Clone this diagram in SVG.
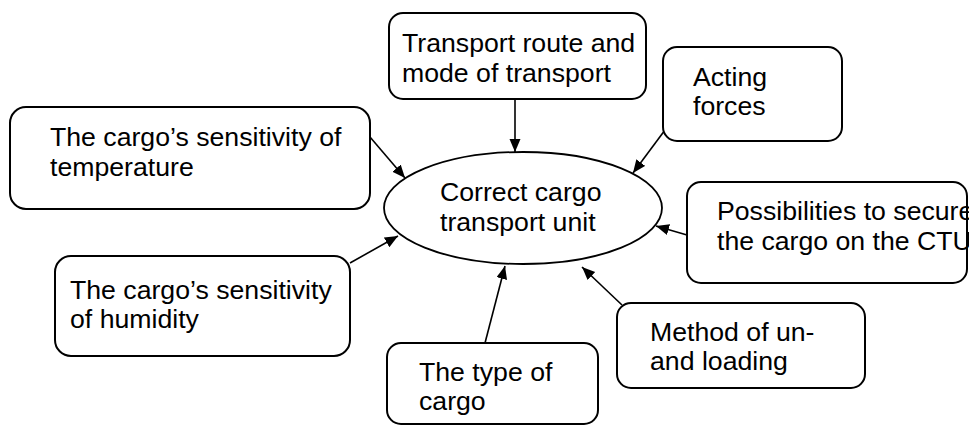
<svg xmlns="http://www.w3.org/2000/svg" width="969" height="425" viewBox="0 0 969 425">
<style>
.box{fill:#fff;stroke:#000;stroke-width:2}
.ell{fill:#fff;stroke:#000;stroke-width:1.8}
.t{font-family:"Liberation Sans",Arial,sans-serif;font-size:26.67px;fill:#000}
.c{stroke:#000;stroke-width:1.6;fill:none;marker-end:url(#ah)}
</style>
<defs>
<marker id="ah" markerUnits="userSpaceOnUse" markerWidth="14" markerHeight="12" refX="13" refY="5.5" orient="auto">
<path d="M0,0 L13,5.5 L0,11 z" fill="#000"/>
</marker>
</defs>
<rect width="969" height="425" fill="#fff"/>
<g id="connectors">
<line class="c" x1="515" y1="99" x2="515" y2="152"/>
<line class="c" x1="665" y1="130" x2="633" y2="173"/>
<line class="c" x1="370" y1="137" x2="405" y2="178"/>
<line class="c" x1="350" y1="263" x2="398" y2="236"/>
<line class="c" x1="485" y1="343" x2="505" y2="266"/>
<line class="c" x1="687" y1="235" x2="656" y2="226"/>
<line class="c" x1="622" y1="305" x2="582" y2="267"/>
</g>
<g id="center">
<ellipse class="ell" cx="523" cy="208" rx="139" ry="56"/>
<text class="t" x="440" y="201">Correct cargo</text>
<text class="t" x="440" y="231">transport unit</text>
</g>
<g id="route">
<rect class="box" x="389" y="13" width="257" height="86" rx="14"/>
<text class="t" x="402" y="52">Transport route and</text>
<text class="t" x="402" y="82">mode of transport</text>
</g>
<g id="forces">
<rect class="box" x="663" y="47" width="179" height="94" rx="14"/>
<text class="t" x="693" y="86">Acting</text>
<text class="t" x="693" y="115">forces</text>
</g>
<g id="temperature">
<rect class="box" x="10" y="107" width="360" height="102" rx="16"/>
<text class="t" x="50" y="146">The cargo’s sensitivity of</text>
<text class="t" x="50" y="176">temperature</text>
</g>
<g id="humidity">
<rect class="box" x="55" y="256" width="295" height="100" rx="16"/>
<text class="t" x="70" y="299">The cargo’s sensitivity</text>
<text class="t" x="70" y="328">of humidity</text>
</g>
<g id="type">
<rect class="box" x="387" y="343" width="211" height="81" rx="14"/>
<text class="t" x="419" y="381">The type of</text>
<text class="t" x="419" y="410">cargo</text>
</g>
<g id="method">
<rect class="box" x="617" y="303" width="248" height="85" rx="14"/>
<text class="t" x="650" y="341">Method of un-</text>
<text class="t" x="650" y="370">and loading</text>
</g>
<g id="secure">
<rect class="box" x="687" y="182" width="280" height="101" rx="14"/>
<text class="t" x="717" y="220">Possibilities to secure</text>
<text class="t" x="717" y="250">the cargo on the CTU</text>
</g>
</svg>
